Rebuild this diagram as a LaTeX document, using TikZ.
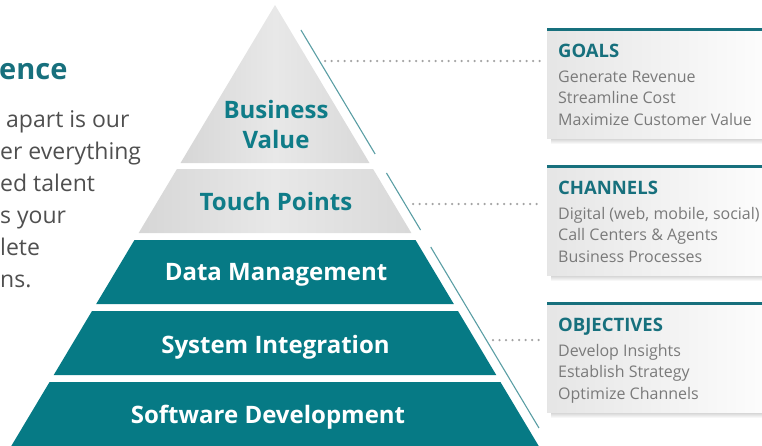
\documentclass[tikz,border=0pt]{standalone}
\usepackage{fontspec}
\setmainfont{Open Sans}
\usepackage{tikz}
\usetikzlibrary{%
  positioning
 ,calc
}
\definecolor{tealfill}{HTML}{067A85}
\definecolor{tealtxt}{HTML}{0F7C88}
\definecolor{tealhd}{HTML}{17707D}
\definecolor{sidecol}{HTML}{5A9EA4}
\definecolor{txtgray}{HTML}{7A7A7A}
\definecolor{bodygray}{HTML}{4F4F4F}
\tikzstyle{pyr}=[x=1pt,y=-1pt,inner sep=0pt]
\tikzstyle{graytier}=[left color=black!16,right color=black!15,middle color=black!9]
\tikzstyle{tealtier}=[fill=tealfill]
\tikzstyle{tierlbl}=[font=\fontsize{24}{30}\selectfont\bfseries,text=tealtxt,align=center]
\tikzstyle{tierlblw}=[tierlbl,text=white]
\tikzstyle{sideln}=[draw=sidecol,line width=1.1pt]
\tikzstyle{dotln}=[draw=black!36,line width=2.5pt,line cap=round,dash pattern=on 0pt off 6.5pt,shorten >=5pt]
\tikzstyle{infobox}=[anchor=north west,minimum width=240pt,minimum height=109pt,left color=black!10,right color=white]
\tikzstyle{topbar}=[draw=tealhd,line width=3pt]
\tikzstyle{boxhd}=[anchor=base west,font=\fontsize{18.5}{20}\selectfont\bfseries,text=tealhd]
\tikzstyle{boxln}=[anchor=base west,font=\fontsize{16}{19}\selectfont,text=txtgray]
\tikzstyle{lefthd}=[anchor=base west,font=\fontsize{29}{34}\selectfont\bfseries,text=tealhd]
\tikzstyle{leftln}=[anchor=base west,font=\fontsize{23}{32}\selectfont,text=bodygray]

\begin{document}
\begin{tikzpicture}[pyr]
  \useasboundingbox (0,0) rectangle (762,445);
  \clip (0,0) rectangle (762,445);
  % pyramid tiers
  \foreach \ya/\yb/\sty in {5/163/graytier,169/233/graytier,240/304/tealtier,311/375/tealtier,382/450/tealtier}
    \path[\sty] ({275-0.598*(\ya-5)},\ya) -- ({275+0.598*(\ya-5)},\ya)
      -- ({275+0.598*(\yb-5)},\yb) -- ({275-0.598*(\yb-5)},\yb) -- cycle;
  \foreach \ya/\yb in {30/154,173/230,247/428}
    \draw[sideln] ({286+0.598*(\ya-5)},\ya) -- ({286+0.598*(\yb-5)},\yb);
% 
  \node[tierlbl] (bv) at (276,124) {Business\\Value};
  \node[tierlbl,anchor=base] (tp) at (276,210) {Touch Points};
  \node[tierlblw,anchor=base] (dm) at (276,280) {Data Management};
  \node[tierlblw,anchor=base] (si) at (275.5,353) {System Integration};
  \node[tierlblw,anchor=base] (sd) at (268,423) {Software Development};
  % info boxes
  \foreach \nm/\tp/\ttl/\la/\lb/\lc in {goals/29/GOALS/Generate Revenue/Streamline Cost/Maximize Customer Value,
      channels/166/CHANNELS/{Digital (web, mobile, social)}/Call Centers \& Agents/Business Processes,
      objectives/303/OBJECTIVES/Develop Insights/Establish Strategy/Optimize Channels}{
    \shade[top color=black!22,bottom color=white] (551,\tp+108) rectangle (770,\tp+115);
    \node[infobox] (\nm) at (547,\tp) {};
    \draw[topbar] (\nm.north west) -- (\nm.north east);
    \node[boxhd] (\nm-t) at (558,\tp+28) {\ttl};
    \node[boxln] (\nm-a) at (558,\tp+53) {\la};
    \node[boxln] (\nm-b) at (558,\tp+74.5) {\lb};
    \node[boxln] (\nm-c) at (558,\tp+96) {\lc};
  }
  % dotted connectors
  \coordinate (bv-dot) at (325,61);
  \coordinate (tp-dot) at (413,204);
  \coordinate (si-dot) at (493,340);
  \draw[dotln] (bv-dot) -- (bv-dot -| goals.west);
  \draw[dotln] (tp-dot) -- (tp-dot -| channels.west);
  \draw[dotln] (si-dot) -- (si-dot -| objectives.west);
  % text at the left
  \node[lefthd] (hd) at (-1,79) {ence};
  \node[leftln] (l1) at (6,127) {apart is our};
  \node[leftln] (l2) at (0,159) {er everything};
  \node[leftln] (l3) at (0,191) {ed talent};
  \node[leftln] (l4) at (0,223) {s your};
  \node[leftln] (l5) at (0,255) {lete};
  \node[leftln] (l6) at (0,287) {ns.};
\end{tikzpicture}
\end{document}
